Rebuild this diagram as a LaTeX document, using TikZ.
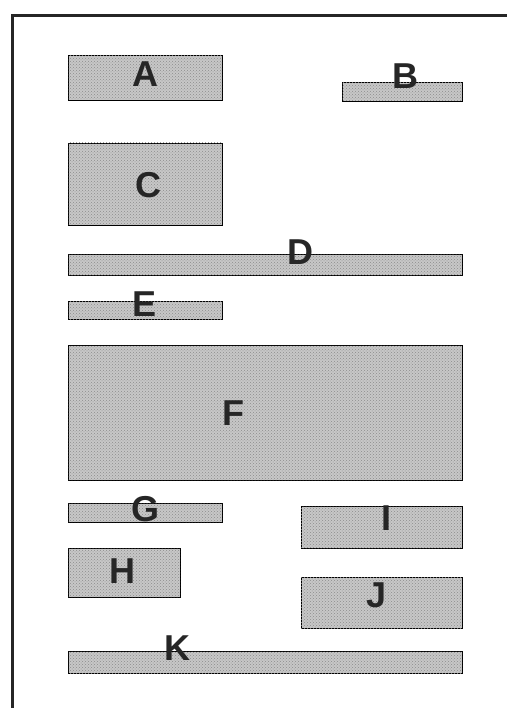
\documentclass[tikz,border=0pt]{standalone}
\usepackage{fontspec}
\setmainfont{Liberation Sans}
\usetikzlibrary{patterns}
\begin{document}
\begin{tikzpicture}[x=1pt,y=-1pt,
  blk/.style={draw=black, line width=0.9pt, fill=black!22, postaction={pattern=crosshatch dots, pattern color=black!45}, inner sep=0pt, outer sep=0pt},
  lbl/.style={font=\fontsize{36}{36}\selectfont\bfseries, text=black!85, inner sep=0pt},
  frameline/.style={line width=3pt, draw=black!85}]
\useasboundingbox (0,0) rectangle (507,708);
\coordinate (ftl) at (12,16);
\coordinate (ftr) at (507,16);
\coordinate (fbl) at (12,708);
\draw[frameline] (fbl) -- (ftl) -- (ftr);
% boxes
\node[blk, minimum width=154pt, minimum height=45pt] (boxA) at (145,77.5) {};
\node[blk, minimum width=120pt, minimum height=19pt] (boxB) at (402,91.5) {};
\node[blk, minimum width=154pt, minimum height=82pt] (boxC) at (145,184) {};
\node[blk, minimum width=394pt, minimum height=21pt] (boxD) at (265,264.5) {};
\node[blk, minimum width=154pt, minimum height=18pt] (boxE) at (145,310) {};
\node[blk, minimum width=394pt, minimum height=135pt] (boxF) at (265,412.5) {};
\node[blk, minimum width=154pt, minimum height=19pt] (boxG) at (145,512.5) {};
\node[blk, minimum width=112pt, minimum height=49pt] (boxH) at (124,572.5) {};
\node[blk, minimum width=161pt, minimum height=42pt] (boxI) at (381.5,527) {};
\node[blk, minimum width=161pt, minimum height=51pt] (boxJ) at (381.5,602.5) {};
\node[blk, minimum width=394pt, minimum height=22pt] (boxK) at (265,662) {};
% labels
\node[lbl] (labA) at (145,74) {A};
\node[lbl] (labB) at (405,76) {B};
\node[lbl] (labC) at (148,185) {C};
\node[lbl] (labD) at (300,252) {D};
\node[lbl] (labE) at (145,304) {E};
\node[lbl] (labF) at (233,413) {F};
\node[lbl] (labG) at (145,509) {G};
\node[lbl] (labH) at (122,571) {H};
\node[lbl] (labI) at (386,518) {I};
\node[lbl] (labJ) at (377,595) {J};
\node[lbl] (labK) at (177,648) {K};
\end{tikzpicture}
\end{document}
